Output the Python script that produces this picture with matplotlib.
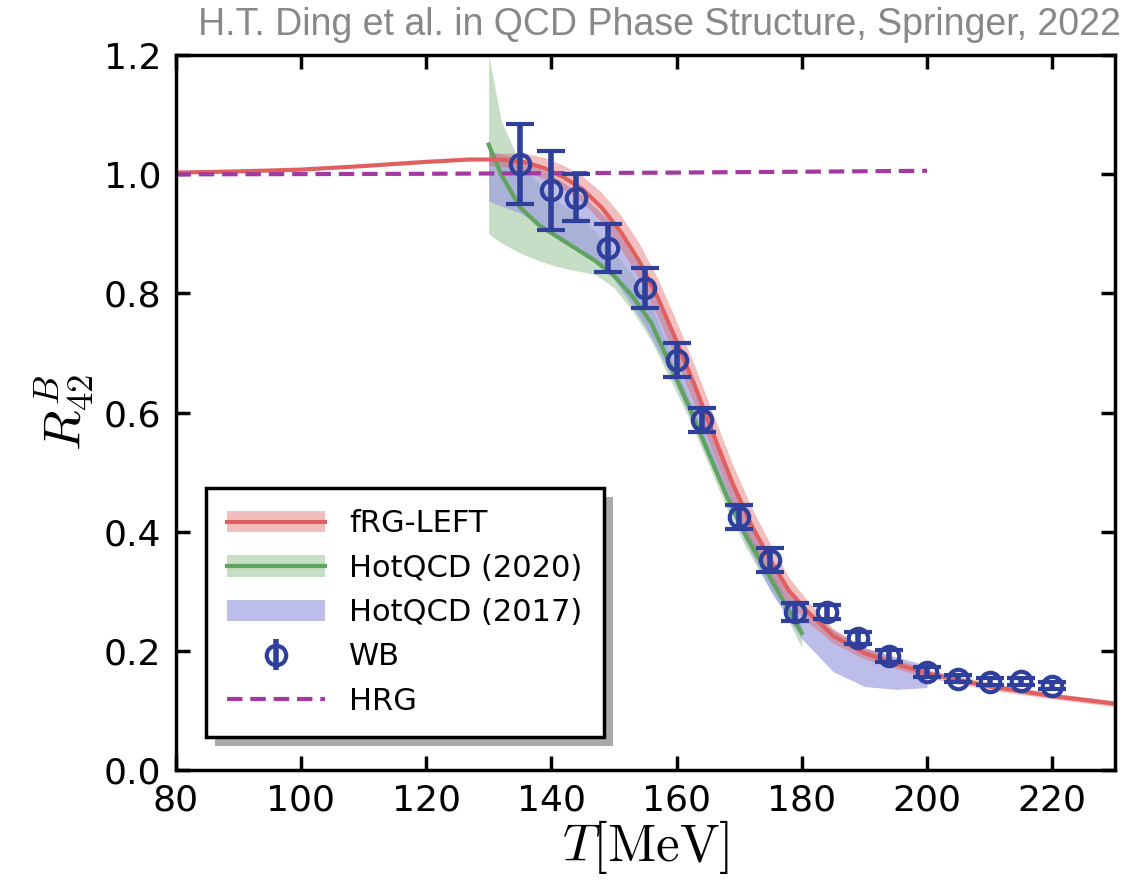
import numpy as np
import matplotlib
matplotlib.use("Agg")
import matplotlib.pyplot as plt
from matplotlib.patches import Patch, Rectangle
from matplotlib.lines import Line2D

plt.rcParams["mathtext.fontset"] = "cm"

# ----------------------------
# Data
# ----------------------------
# fRG-LEFT central line
frg_T = [80, 90, 100, 110, 120, 127, 130, 133, 136, 139, 142, 145, 148, 151, 154, 157,
         160, 163, 166, 169, 172, 175, 178, 181, 185, 190, 195, 200, 210, 220, 230]
frg_R = [1.003, 1.005, 1.008, 1.014, 1.021, 1.025, 1.025, 1.024, 1.02, 1.01, 0.995, 0.975,
         0.945, 0.905, 0.855, 0.793, 0.72, 0.643, 0.56, 0.48, 0.41, 0.352, 0.30, 0.265,
         0.225, 0.196, 0.178, 0.162, 0.14, 0.124, 0.111]
# fRG-LEFT band (starts at 130)
frg_band_T = [130, 133, 136, 139, 142, 145, 148, 151, 154, 157, 160, 163, 166, 169, 172,
              175, 178, 181, 185, 190, 195, 200, 210, 220, 230]
frg_band_lo = [1.015, 1.012, 1.005, 0.992, 0.975, 0.953, 0.92, 0.877, 0.825, 0.761, 0.687,
               0.61, 0.527, 0.448, 0.38, 0.325, 0.278, 0.247, 0.213, 0.186, 0.17, 0.155,
               0.134, 0.119, 0.106]
frg_band_hi = [1.035, 1.036, 1.035, 1.028, 1.015, 0.997, 0.97, 0.933, 0.885, 0.825, 0.753,
               0.676, 0.593, 0.512, 0.44, 0.379, 0.322, 0.283, 0.237, 0.206, 0.186, 0.169,
               0.146, 0.129, 0.116]

# HotQCD (2020)
h20_T = [130, 132, 135, 138, 141, 144, 147, 150, 153, 156, 159, 162, 165, 168, 171, 174, 177, 180]
h20_R = [1.05, 1.0, 0.945, 0.915, 0.895, 0.875, 0.855, 0.83, 0.795, 0.75, 0.68, 0.61, 0.535,
         0.46, 0.395, 0.34, 0.285, 0.23]
h20_hi = [1.2, 1.09, 1.02, 0.985, 0.955, 0.935, 0.905, 0.87, 0.83, 0.78, 0.70, 0.625, 0.55,
          0.475, 0.41, 0.355, 0.30, 0.245]
h20_lo = [0.90, 0.885, 0.868, 0.855, 0.845, 0.838, 0.832, 0.81, 0.77, 0.72, 0.655, 0.59,
          0.515, 0.44, 0.375, 0.32, 0.27, 0.205]

# HotQCD (2017) band
h17_T = [130, 135, 140, 145, 150, 155, 160, 165, 170, 175, 180, 185, 190, 195, 200]
h17_hi = [1.04, 1.025, 1.0, 0.965, 0.915, 0.83, 0.715, 0.585, 0.45, 0.35, 0.275, 0.235,
          0.205, 0.19, 0.175]
h17_lo = [0.955, 0.935, 0.905, 0.87, 0.825, 0.745, 0.645, 0.525, 0.405, 0.30, 0.22, 0.165,
          0.14, 0.135, 0.138]

# WB lattice points
wb_T = [135, 140, 144, 149, 155, 160, 164, 170, 175, 179, 184, 189, 194, 200, 205, 210, 215, 220]
wb_R = [1.018, 0.973, 0.961, 0.876, 0.809, 0.688, 0.587, 0.424, 0.352, 0.265, 0.265, 0.221,
        0.191, 0.164, 0.153, 0.148, 0.149, 0.141]
wb_err = [0.067, 0.067, 0.04, 0.04, 0.034, 0.028, 0.02, 0.02, 0.02, 0.015, 0.012, 0.01,
          0.01, 0.008, 0.006, 0.006, 0.006, 0.006]

# HRG
hrg_T = [80, 120, 160, 200]
hrg_R = [1.0, 1.001, 1.003, 1.006]

labels = ["fRG-LEFT", "HotQCD (2020)", "HotQCD (2017)", "WB", "HRG"]
xticks = [80, 100, 120, 140, 160, 180, 200, 220]
yticks = [0.0, 0.2, 0.4, 0.6, 0.8, 1.0, 1.2]

# ----------------------------
# Plot
# ----------------------------
c_red = "#e06060"
c_green = "#5ea35e"
c_blue = "#9a9ae0"
c_wb = "#2f3f9c"
c_hrg = "#a23aa2"

fig = plt.figure(figsize=(11.25, 8.92), dpi=100)
ax = fig.add_axes([0.156, 0.137, 0.835, 0.801])

ax.fill_between(h20_T, h20_lo, h20_hi, color=c_green, alpha=0.35, lw=0)
ax.fill_between(h17_T, h17_lo, h17_hi, color=c_blue, alpha=0.65, lw=0)
ax.fill_between(frg_band_T, frg_band_lo, frg_band_hi, color=c_red, alpha=0.4, lw=0)
ax.plot(h20_T, h20_R, color=c_green, lw=3)
ax.plot(frg_T, frg_R, color=c_red, lw=3)
ax.plot(hrg_T, hrg_R, color=c_hrg, lw=3, dashes=(3.7, 1.9))
ax.errorbar(wb_T, wb_R, yerr=wb_err, fmt="o", mfc="none", mec=c_wb, mew=3, ms=14,
            ecolor=c_wb, elinewidth=4, capsize=10, capthick=3)

ax.set_xlim(80, 230)
ax.set_ylim(0, 1.2)
ax.set_xticks(xticks)
ax.set_yticks(yticks)
ax.set_yticklabels([f"{v:.1f}" for v in yticks])
ax.tick_params(direction="in", top=True, right=True, length=10, width=2.5,
               labelsize=26, pad=10)
for s in ax.spines.values():
    s.set_linewidth(2.5)

ax.set_xlabel(r"$T[\mathrm{MeV}]$", fontsize=38, labelpad=0)
ax.set_ylabel(r"$R_{42}^{B}$", fontsize=38, labelpad=6)

eb = ax.errorbar([], [], yerr=[], fmt="o", mfc="none", mec=c_wb, mew=3, ms=14,
                 ecolor=c_wb, elinewidth=4, capsize=10, capthick=3)
handles = [
    (Patch(color=c_red, alpha=0.4, lw=0), Line2D([], [], color=c_red, lw=3)),
    (Patch(color=c_green, alpha=0.35, lw=0), Line2D([], [], color=c_green, lw=3)),
    Patch(color=c_blue, alpha=0.65, lw=0),
    eb,
    Line2D([], [], color=c_hrg, lw=3, dashes=(3.7, 1.9)),
]
leg = ax.legend(handles, labels, loc="lower left", bbox_to_anchor=(0.032, 0.046),
                borderaxespad=0, fontsize=22, frameon=True, fancybox=False, shadow=False,
                framealpha=1, facecolor="white",
                edgecolor="black", handlelength=3.2, borderpad=0.7, labelspacing=0.5,
                handletextpad=0.8)
leg.get_frame().set_linewidth(2.5)
leg.set_zorder(6)

# hard gray drop shadow behind the legend box, offset down-right
fig.canvas.draw()
bb = leg.get_frame().get_window_extent()
ax.add_patch(Rectangle((bb.x0 + 9, bb.y0 - 9), bb.width, bb.height, transform=None,
                       facecolor="#aaaaaa", edgecolor="none", zorder=5.5))

fig.text(0.996, 0.972, "H.T. Ding et al. in QCD Phase Structure, Springer, 2022",
         ha="right", va="center", fontsize=27, color="#888888", family="Liberation Sans")

fig.savefig("out.png", dpi=100)
